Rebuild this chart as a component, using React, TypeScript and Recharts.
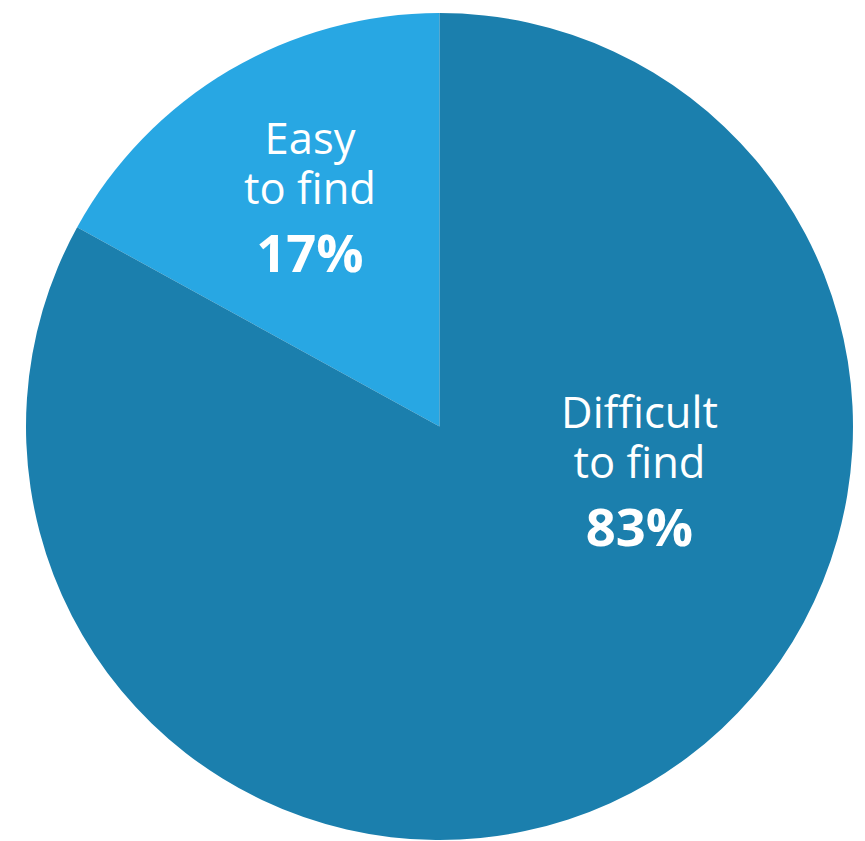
import React from "react";
import { PieChart, Pie, Cell } from "recharts";

const categories = ["Easy to find", "Difficult to find"];
const labelLines = [["Easy", "to find"], ["Difficult", "to find"]];
const values = [17, 83];
const colors = ["#28a7e3", "#1b7fad"];

const data = categories.map((name, i) => ({ name, value: values[i] }));

const CX = 431.5;
const CY = 418.5;
const R = 413.5;

// label anchor offsets relative to pie center (layout only)
const labelOffsets = [
  { dx: -129.5, dy: -273 },
  { dx: 200, dy: 1.5 },
];

const renderLabel = (props: any) => {
  const { index, cx, cy } = props;
  const off = labelOffsets[index];
  const x = cx + off.dx;
  const y = cy + off.dy;
  const lines = labelLines[index];
  return (
    <g key={`lbl-${index}`}>
      <text x={x} y={y} textAnchor="middle" fill="#ffffff" fontFamily="'Open Sans', sans-serif" fontSize={43.5}>
        {lines[0]}
      </text>
      <text x={x} y={y + 50} textAnchor="middle" fill="#ffffff" fontFamily="'Open Sans', sans-serif" fontSize={43.5}>
        {lines[1]}
      </text>
      <text x={x} y={y + 118} textAnchor="middle" fill="#ffffff" fontFamily="'Open Sans', sans-serif" fontSize={52.5} fontWeight={700}>
        {`${values[index]}%`}
      </text>
    </g>
  );
};

export default function App() {
  return (
    <div style={{ width: 857, height: 833 }}>
      <PieChart width={857} height={833} margin={{ top: 0, right: 0, bottom: 0, left: 0 }}>
        <Pie
          data={data}
          dataKey="value"
          nameKey="name"
          cx={CX}
          cy={CY}
          outerRadius={R}
          innerRadius={0}
          startAngle={90}
          endAngle={450}
          stroke="none"
          label={renderLabel}
          labelLine={false}
          isAnimationActive={false}
        >
          {data.map((d, i) => (
            <Cell key={d.name} fill={colors[i]} />
          ))}
        </Pie>
      </PieChart>
    </div>
  );
}
